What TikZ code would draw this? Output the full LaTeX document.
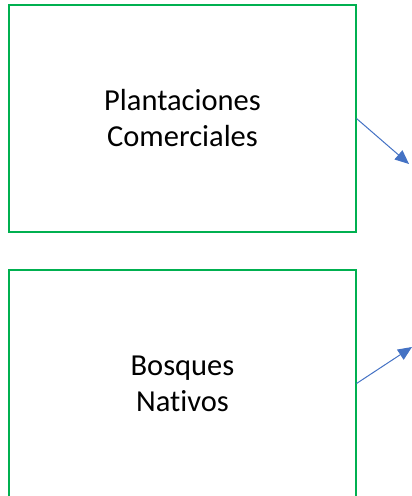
\documentclass[tikz,border=0pt]{standalone}
\usepackage{fontspec}
\setmainfont[Ligatures={NoCommon}]{Carlito}
\usetikzlibrary{arrows.meta}
\definecolor{boxgreen}{HTML}{00B050}
\definecolor{arrowblue}{HTML}{4472C4}
\tikzset{
  greenbox/.style={draw=boxgreen, line width=2bp, minimum width=346bp, minimum height=227bp, inner sep=0pt, align=center, font=\fontsize{30.5bp}{36bp}\selectfont},
  bluearrow/.style={draw=arrowblue, line width=1bp, -{Triangle[length=14bp,width=12bp]}}
}
\begin{document}
\begin{tikzpicture}[x=1bp,y=1bp]
\useasboundingbox (0,0) rectangle (411,-496);
\node[greenbox] (plant) at (182.5,-118.5) {Plantaciones\\Comerciales};
\node[greenbox] (bosq) at (182.5,-383.5) {Bosques\\Nativos};
\coordinate (e1) at (409,-164);
\coordinate (e2) at (412,-347);
\draw[bluearrow] (plant.east) -- (e1);
\draw[bluearrow] (bosq.east) -- (e2);
\end{tikzpicture}
\end{document}
